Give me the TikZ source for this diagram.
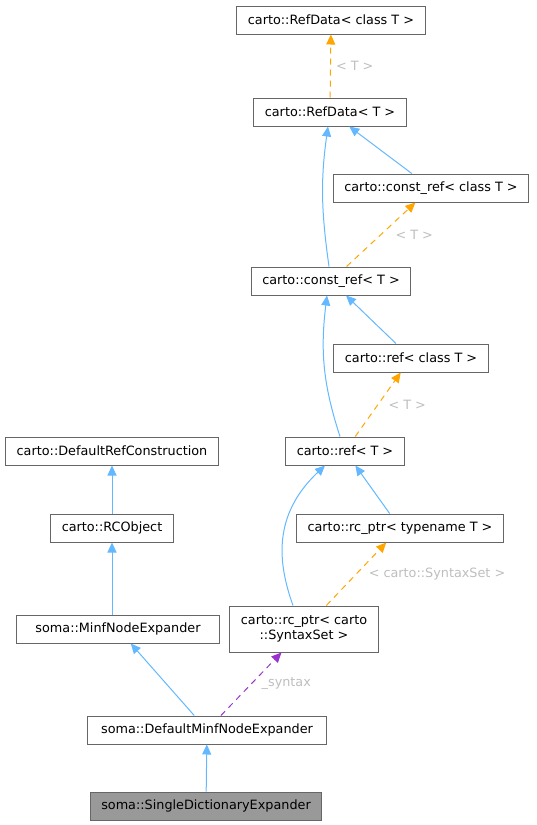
\documentclass[tikz,border=0pt]{standalone}
\usepackage{fontspec}
\setmainfont{DejaVu Sans}
\usepackage{xcolor}
\usepackage{tikz}
\usetikzlibrary{shapes,arrows.meta,positioning}
\definecolor{edgeblue}{HTML}{63B8FF}
\definecolor{edgeorange}{HTML}{FFA500}
\definecolor{edgepurple}{HTML}{9A32CD}
\definecolor{labelgray}{HTML}{BEBEBE}
\definecolor{boxgray}{HTML}{666666}
\definecolor{hifill}{HTML}{999999}

\begin{document}
\begin{tikzpicture}[x=1pt, y=1pt]
\tikzstyle{cls} = [rectangle, draw=boxgray, line width=1pt, fill=white, minimum height=28pt, inner xsep=11pt, font=\fontsize{12.8}{15.5}\selectfont, align=center]
\tikzstyle{hicls} = [cls, fill=hifill]
\tikzstyle{lbl} = [font=\fontsize{12.8}{15.5}\selectfont, text=labelgray, anchor=west, inner sep=0pt]
\tikzstyle{inherit} = [line width=1pt, draw=edgeblue, -{Triangle[length=10pt, width=9pt, fill=edgeblue]}]
\tikzstyle{tmpl} = [line width=1pt, draw=edgeorange, dash pattern=on 6pt off 5pt, -{Triangle[length=10pt, width=9pt, fill=edgeorange]}]
\tikzstyle{usage} = [line width=1pt, draw=edgepurple, dash pattern=on 6pt off 5pt, -{Triangle[length=10pt, width=9pt, fill=edgepurple]}]

\useasboundingbox (0,0) rectangle (537,-825);

\node [cls] (refdataclass) at (331,-20) {carto::RefData< class T >};
\node [cls] (refdata) at (330,-112) {carto::RefData< T >};
\node [cls] (constrefclass) at (431,-188) {carto::const\_ref< class T >};
\node [cls] (constref) at (331,-281) {carto::const\_ref< T >};
\node [cls] (refclass) at (411,-358) {carto::ref< class T >};
\node [cls] (ref) at (345,-451) {carto::ref< T >};
\node [cls] (defrefcons) at (112,-451) {carto::DefaultRefConstruction};
\node [cls] (rcobject) at (112,-528) {carto::RCObject};
\node [cls] (rcptrtype) at (400,-528) {carto::rc\_ptr< typename T >};
\node [cls, minimum height=46pt] (rcptrsyntax) at (304,-629) {carto::rc\_ptr< carto\\::SyntaxSet >};
\node [cls, minimum width=203pt] (minfexp) at (118,-629) {soma::MinfNodeExpander};
\node [cls, minimum width=239pt] (defminfexp) at (207,-730) {soma::DefaultMinfNodeExpander};
\node [hicls] (singledict) at (206,-806) {soma::SingleDictionaryExpander};

\draw [tmpl] (refdata) -- node [lbl, pos=0.5, xshift=5pt] {< T >} (refdataclass);
\draw [inherit] ([xshift=-2pt]constref.north) to [out=98, in=-98] ([xshift=-2pt]refdata.south);
\draw [inherit] (constrefclass) -- (refdata);
\draw [tmpl] (constref) -- node [lbl, pos=0.5, xshift=14pt] {< T >} (constrefclass);
\draw [inherit] ([xshift=-5pt]ref.north) to [out=108, in=-97] ([xshift=-4pt]constref.south);
\draw [inherit] (refclass) -- (constref);
\draw [tmpl] (ref) -- node [lbl, pos=0.5, xshift=10pt] {< T >} (refclass);
\draw [inherit] (rcobject) -- (defrefcons);
\draw [inherit] (minfexp.north -| rcobject) -- (rcobject);
\draw [inherit] ([xshift=-11pt]rcptrsyntax.north) .. controls +(-15,42) and +(-53,-50) .. ([xshift=-20pt]ref.south);
\draw [inherit] (rcptrtype) -- (ref);
\draw [tmpl] (rcptrsyntax) -- node [lbl, pos=0.5, xshift=12pt] {< carto::SyntaxSet >} (rcptrtype);
\draw [inherit] (defminfexp) -- (minfexp);
\draw [usage] (defminfexp) -- node [lbl, pos=0.5, xshift=10pt] {\_syntax} (rcptrsyntax);
\draw [inherit] (singledict) -- (defminfexp);
\end{tikzpicture}
\end{document}
